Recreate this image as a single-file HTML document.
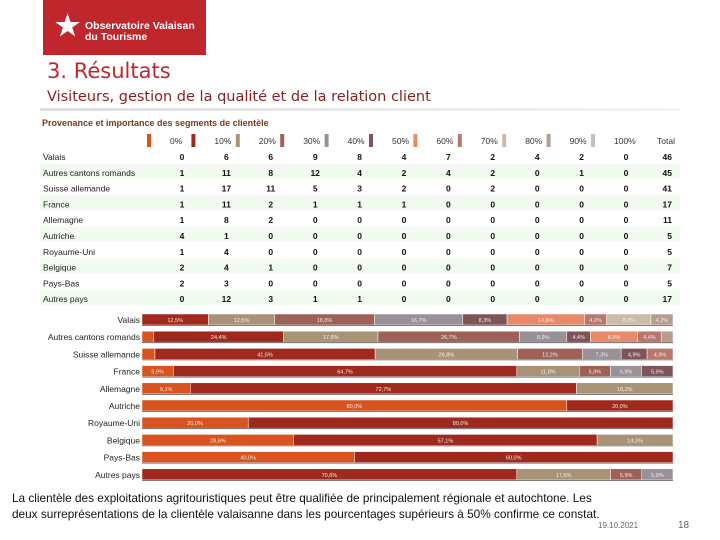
<!DOCTYPE html>
<html><head><meta charset="utf-8">
<style>
body{margin:0;width:720px;height:540px;background:#fff;font-family:"Liberation Sans",sans-serif;position:relative;overflow:hidden}
.abs{position:absolute}
</style></head><body>
<div class="abs" style="left:43px;top:0;width:163px;height:55px;background:#c0272d;color:#fff;font-weight:bold;font-size:10.5px;line-height:11px">
<div style="position:absolute;left:12px;top:12px;font-size:28px;line-height:28px">★</div>
<div style="position:absolute;left:42px;top:21px">Observatoire Valaisan<br>du Tourisme</div></div>
<div class="abs" style="left:47px;top:59px;font-size:21px;color:#c0272d;font-family:'DejaVu Sans',sans-serif">3. Résultats</div>
<div class="abs" style="left:47px;top:89px;font-size:14.5px;color:#8a1f1f;font-family:'DejaVu Sans',sans-serif">Visiteurs, gestion de la qualité et de la relation client</div>
<div class="abs" style="left:40px;top:108px;width:640px;height:3px;background:linear-gradient(90deg,#ddd,#f4f4f4)"></div>
<svg class="abs" style="left:0;top:0" width="720" height="540" id="svg"></svg>
<div class="abs" style="left:12px;top:490px;width:660px;font-size:11.8px;line-height:16px;color:#111;white-space:nowrap">La clientèle des exploitations agritouristiques peut être qualifiée de principalement régionale et autochtone. Les<br>deux surreprésentations de la clientèle valaisanne dans les pourcentages supérieurs à 50% confirme ce constat.</div>
<div class="abs" style="left:598px;top:521px;font-size:8px;color:#666">19.10.2021</div>
<div class="abs" style="left:678px;top:520px;font-size:10px;color:#666">18</div>
<script>
const countries=["Valais","Autres cantons romands","Suisse allemande","France","Allemagne","Autriche","Royaume-Uni","Belgique","Pays-Bas","Autres pays"];
const segments=["0%","10%","20%","30%","40%","50%","60%","70%","80%","90%","100%"];
const counts=[
[0,6,6,9,8,4,7,2,4,2,0],
[1,11,8,12,4,2,4,2,0,1,0],
[1,17,11,5,3,2,0,2,0,0,0],
[1,11,2,1,1,1,0,0,0,0,0],
[1,8,2,0,0,0,0,0,0,0,0],
[4,1,0,0,0,0,0,0,0,0,0],
[1,4,0,0,0,0,0,0,0,0,0],
[2,4,1,0,0,0,0,0,0,0,0],
[2,3,0,0,0,0,0,0,0,0,0],
[0,12,3,1,1,0,0,0,0,0,0]];
const totals=[46,45,41,17,11,5,5,7,5,17];
const colors=["#d9531e","#a0291e","#a99377","#9e6158","#9a9097","#7e5459","#e8896a","#b9766d","#c9bca9","#b89c92","#c4bcc4"];
const NS="http://www.w3.org/2000/svg",svg=document.getElementById('svg');
function mk(t,a,txt){const e=document.createElementNS(NS,t);for(const k in a)e.setAttribute(k,a[k]);if(txt!==undefined)e.textContent=txt;svg.appendChild(e);return e;}
let e=mk('text',{x:42,y:126,'font-size':9,'font-weight':'bold',fill:'#7a3a1a'},'Provenance et importance des segments de clientèle');

const colX=i=>182+i*44.4, rowY=i=>159+i*15.8;
segments.forEach((s,i)=>{
 let r=mk('rect',{x:colX(i)-35,y:134,width:4,height:13,fill:colors[i]});
 
 let t=mk('text',{x:colX(i)-12,y:144,'font-size':8.5,fill:'#333'},s);
 
});
e=mk('text',{x:657,y:144,'font-size':8.5,fill:'#333'},'Total');

countries.forEach((c,r)=>{
 if(r%2==1){let b=mk('rect',{x:40,y:rowY(r)-11,width:640,height:15,fill:'#f2fbef'});}
 let t=mk('text',{x:43,y:rowY(r)+1,'font-size':8.5,fill:'#222'},c);
 
 counts[r].forEach((v,i)=>{
  let n=mk('text',{x:colX(i),y:rowY(r)+1,'font-size':8.5,'font-weight':'bold','text-anchor':'middle',fill:'#111'},v);
  });
 let tt=mk('text',{x:672,y:rowY(r)+1,'font-size':8.5,'font-weight':'bold','text-anchor':'end',fill:'#111'},totals[r]);
 
});
const bx=142,bw=531,by=i=>314+i*17.2;
countries.forEach((c,r)=>{
 let t=mk('text',{x:140,y:by(r)+9,'font-size':8.5,'text-anchor':'end',fill:'#222'},c);
 
 const tot=counts[r].reduce((a,b)=>a+b,0);let x=bx;
 counts[r].forEach((v,i)=>{if(!v)return;const w=v/tot*bw;
  let b=mk('rect',{x:x,y:by(r),width:w,height:11,fill:colors[i],stroke:'#fff','stroke-width':0.5});
  
  if(w>18){let l=mk('text',{x:x+w/2,y:by(r)+8,'font-size':5.5,'text-anchor':'middle',fill:'#eee'},(v/tot*100).toFixed(1).replace('.',',')+'%');
   }
  x+=w;});
 let u=mk('line',{x1:bx,x2:bx+bw,y1:by(r)+11.5,y2:by(r)+11.5,stroke:'#555','stroke-width':0.8});
 
});
</script>
</body></html>
